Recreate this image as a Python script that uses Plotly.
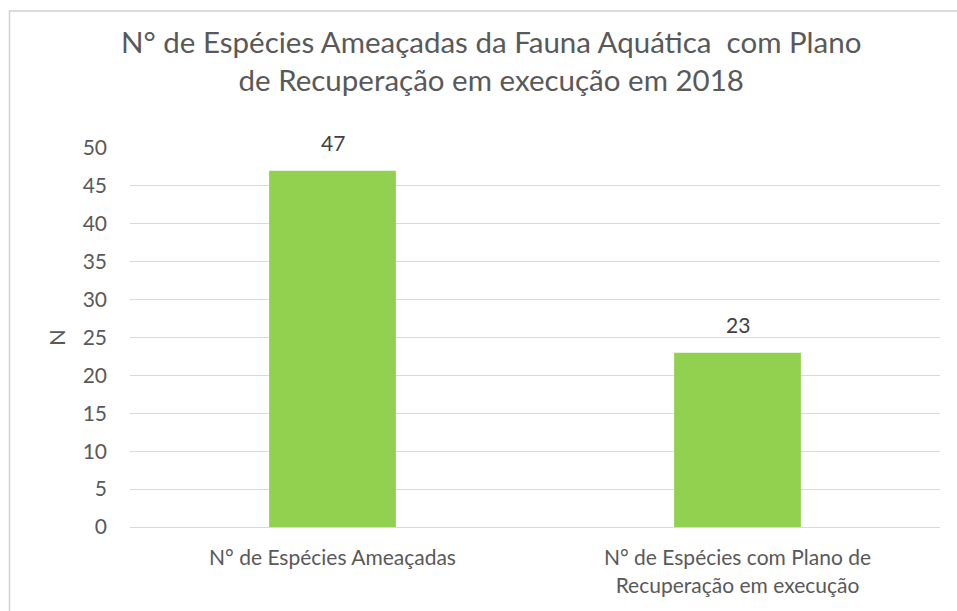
import plotly.graph_objects as go

# Dados do gráfico
categorias = ["N° de Espécies Ameaçadas", "N° de Espécies com Plano de<br>Recuperação em execução"]
valores = [47, 23]
y_ticks = [0, 5, 10, 15, 20, 25, 30, 35, 40, 45, 50]
titulo = "N° de Espécies Ameaçadas da Fauna Aquática  com Plano<br>de Recuperação em execução em 2018"

W, H = 957, 611
ML, MR, MT, MB = 130, 17, 148, 84
plot_w = W - ML - MR
plot_h = H - MT - MB

fonte = "Lato"
cinza_texto = "#595959"


def px_x(p):
    return (p - ML) / plot_w


def px_y(p):
    return (H - MB - p) / plot_h


fig = go.Figure(
    go.Bar(
        x=categorias,
        y=valores,
        marker=dict(color="#92D050", line=dict(width=0)),
        cliponaxis=False,
        width=0.313,
        hoverinfo="x+y",
    )
)

# Rótulos de dados acima das barras
for cat, v in zip(categorias, valores):
    fig.add_annotation(
        x=cat,
        y=v,
        text=str(v),
        showarrow=False,
        yanchor="bottom",
        yshift=14,
        font=dict(family=fonte, size=21, color="#404040"),
    )

# Título em duas linhas
fig.add_annotation(
    xref="paper",
    yref="paper",
    x=px_x(491),
    y=px_y(60),
    text=titulo,
    showarrow=False,
    xanchor="center",
    yanchor="middle",
    align="center",
    font=dict(family=fonte, size=29.5, color=cinza_texto),
)

fig.update_layout(
    width=W,
    height=H,
    margin=dict(l=ML, r=MR, t=MT, b=MB),
    paper_bgcolor="white",
    plot_bgcolor="white",
    showlegend=False,
    font=dict(family=fonte, color=cinza_texto),
)

fig.update_yaxes(
    range=[0, 50],
    tickvals=y_ticks,
    showgrid=True,
    gridcolor="#D9D9D9",
    gridwidth=1,
    zeroline=False,
    showline=False,
    ticks="",
    ticklabelstandoff=22,
    tickfont=dict(family=fonte, size=21, color=cinza_texto),
    title=dict(text="N", font=dict(family=fonte, size=22, color=cinza_texto), standoff=10),
)

fig.update_xaxes(
    showgrid=False,
    showline=True,
    linecolor="#D9D9D9",
    linewidth=1,
    ticks="",
    ticklabelstandoff=12,
    tickfont=dict(family=fonte, size=21, color=cinza_texto),
)

# Moldura da área do gráfico
fig.add_shape(
    type="rect",
    xref="paper",
    yref="paper",
    x0=px_x(9.5),
    x1=px_x(W + 5),
    y0=px_y(H + 5),
    y1=px_y(11),
    line=dict(color="#D0D0D0", width=1.5),
    fillcolor="rgba(0,0,0,0)",
    layer="above",
)

fig.write_html("out.html")
